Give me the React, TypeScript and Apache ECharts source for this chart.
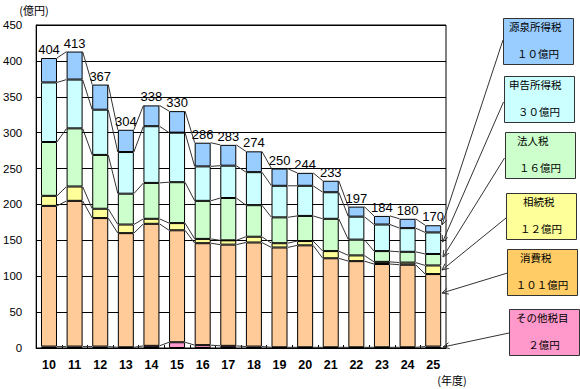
import React, { useEffect, useRef } from "react";
import * as echarts from "echarts";

const categories = ["10", "11", "12", "13", "14", "15", "16", "17", "18", "19", "20", "21", "22", "23", "24", "25"];
const seriesNames = ["その他税目", "消費税", "相続税", "法人税", "申告所得税", "源泉所得税"];
const other = [2, 2, 2, 1, 3, 8, 4, 3, 2, 1, 1, 1, 1, 1, 1, 2];
const consumption = [196, 203, 179, 159, 170, 156, 142, 141, 145, 139, 142, 124, 120, 116, 115, 101];
const inheritance = [14, 20, 13, 12, 7, 10, 6, 6, 8, 6, 6, 10, 8, 3, 3, 12];
const corporate = [75, 81, 75, 43, 50, 57, 53, 59, 44, 36, 35, 45, 22, 15, 15, 16];
const declared = [83, 68, 63, 58, 79, 69, 48, 45, 46, 44, 42, 37, 32, 37, 33, 30];
const withholding = [34, 39, 35, 31, 29, 30, 33, 29, 29, 24, 18, 16, 14, 12, 13, 10];
const totals = [404, 413, 367, 304, 338, 330, 286, 283, 274, 250, 244, 233, 197, 184, 180, 170];
const yTicks = { min: 0, max: 450, interval: 50 };
// callout boxes (top to bottom): name, latest amount
const calloutNames = ["源泉所得税", "申告所得税", "法人税", "相続税", "消費税", "その他税目"];
const calloutAmounts = ["１０億円", "３０億円", "１６億円", "１２億円", "１０１億円", "２億円"];

const seriesData = [other, consumption, inheritance, corporate, declared, withholding];
const seriesColors = ["#ff99cc", "#ffcc99", "#ffff99", "#ccffcc", "#ccffff", "#99ccff"];
const calloutColors = ["#99ccff", "#ccffff", "#ccffcc", "#ffff99", "#ffcc66", "#ff99cc"];
const calloutPos = [
  [503, 18, 509],
  [504, 76, 509],
  [505, 132, 517],
  [506, 193, 523],
  [507, 249, 520],
  [509, 309, 516],
];
const arrowFrom = [[503, 40], [503.5, 102], [504.5, 158], [506, 218], [507.5, 273], [509, 333]];
const arrowTo = [[442, 225], [442.5, 242], [443, 257], [442, 270], [442, 293], [443, 347]];

const BAR_W = 16;
const JP = "'Noto Sans CJK JP', sans-serif";
const LAT = "'Liberation Sans', Arial, sans-serif";

export default function App() {
  const ref = useRef<HTMLDivElement>(null);
  useEffect(() => {
    if (!ref.current) return;
    const chart = echarts.init(ref.current, undefined, { renderer: "svg" });

    // cumulative levels for series lines
    const levels: number[][] = [];
    const acc = categories.map(() => 0);
    seriesData.forEach((arr) => {
      arr.forEach((v, i) => (acc[i] += v));
      levels.push(acc.slice());
    });

    const graphics: any[] = [];
    calloutNames.forEach((name, k) => {
      const [bx, by, tx] = calloutPos[k];
      graphics.push({
        type: "rect",
        shape: { x: bx + 0.5, y: by + 0.5, width: 70, height: 46 },
        style: { fill: calloutColors[k], stroke: "#333", lineWidth: 1 },
        z: 10,
      });
      graphics.push({
        type: "text",
        x: tx,
        y: by + 8,
        style: { text: name, fontSize: 10.5, fontFamily: JP, fill: "#000", verticalAlign: "middle", align: "left" },
        z: 11,
      });
      graphics.push({
        type: "text",
        x: bx + 35,
        y: by + 35,
        style: { text: calloutAmounts[k], fontSize: 10.5, fontFamily: JP, fill: "#000", verticalAlign: "middle", align: "center" },
        z: 11,
      });
    });
    arrowFrom.forEach((f, k) => {
      const t = arrowTo[k];
      const ang = Math.atan2(f[1] - t[1], f[0] - t[0]);
      const L = 7;
      const a1 = ang + 0.45;
      const a2 = ang - 0.45;
      graphics.push({
        type: "line",
        shape: { x1: f[0], y1: f[1], x2: t[0], y2: t[1] },
        style: { stroke: "#333", lineWidth: 1 },
        z: 12,
      });
      graphics.push({
        type: "polyline",
        shape: {
          points: [
            [t[0] + L * Math.cos(a1), t[1] + L * Math.sin(a1)],
            [t[0], t[1]],
            [t[0] + L * Math.cos(a2), t[1] + L * Math.sin(a2)],
          ],
        },
        style: { stroke: "#333", lineWidth: 1, fill: null },
        z: 12,
      });
    });
    graphics.push({
      type: "text",
      x: 34,
      y: 10,
      style: { text: "(億円)", fontSize: 11, fontFamily: JP, fill: "#000", align: "center", verticalAlign: "middle" },
    });
    graphics.push({
      type: "text",
      x: 452,
      y: 380,
      style: { text: "(年度)", fontSize: 11, fontFamily: JP, fill: "#000", align: "center", verticalAlign: "middle" },
    });

    const barSeries = seriesData.map((arr, k) => ({
      name: seriesNames[k],
      type: "bar",
      stack: "total",
      data: arr,
      barWidth: BAR_W,
      itemStyle: { color: seriesColors[k], borderColor: "#000", borderWidth: 1 },
      label:
        k === seriesData.length - 1
          ? {
              show: true,
              position: "top",
              distance: 2,
              formatter: (p: any) => String(totals[p.dataIndex]),
              fontSize: 13,
              fontFamily: LAT,
              color: "#000",
            }
          : { show: false },
      z: 3,
    }));

    const connector = {
      type: "custom",
      z: 2,
      silent: true,
      data: categories.slice(0, -1).map((_, i) => [i, 0]),
      renderItem: (params: any, api: any) => {
        const i = api.value(0);
        const children = levels.map((lv) => {
          const p1 = api.coord([i, lv[i]]);
          const p2 = api.coord([i + 1, lv[i + 1]]);
          return {
            type: "line",
            shape: { x1: p1[0] + BAR_W / 2, y1: p1[1], x2: p2[0] - BAR_W / 2, y2: p2[1] },
            style: { stroke: "#333", lineWidth: 1 },
          };
        });
        return { type: "group", children };
      },
    };

    chart.setOption({
      animation: false,
      backgroundColor: "#fff",
      grid: {
        left: 36,
        right: 134,
        top: 25,
        bottom: 41,
        show: true,
        borderColor: "#000",
        borderWidth: 1,
        backgroundColor: "transparent",
      },
      xAxis: {
        type: "category",
        data: categories,
        boundaryGap: true,
        axisLine: { lineStyle: { color: "#000" } },
        axisTick: { show: true, inside: true, length: 3, lineStyle: { color: "#000" } },
        axisLabel: { fontSize: 12.5, fontWeight: "bold", fontFamily: LAT, color: "#000", margin: 10 },
      },
      yAxis: {
        type: "value",
        min: yTicks.min,
        max: yTicks.max,
        interval: yTicks.interval,
        axisLine: { show: true, lineStyle: { color: "#000" } },
        axisTick: { show: false },
        axisLabel: { fontSize: 11.5, fontFamily: LAT, color: "#000", margin: 14 },
        splitLine: { show: true, lineStyle: { color: "#000", width: 1 } },
      },
      series: [...barSeries, connector],
      graphic: graphics,
    });
    return () => chart.dispose();
  }, []);
  return (
    <div
      ref={ref}
      style={{ position: "fixed", left: 0, top: 0, width: 580, height: 389, background: "#fff" }}
    />
  );
}
